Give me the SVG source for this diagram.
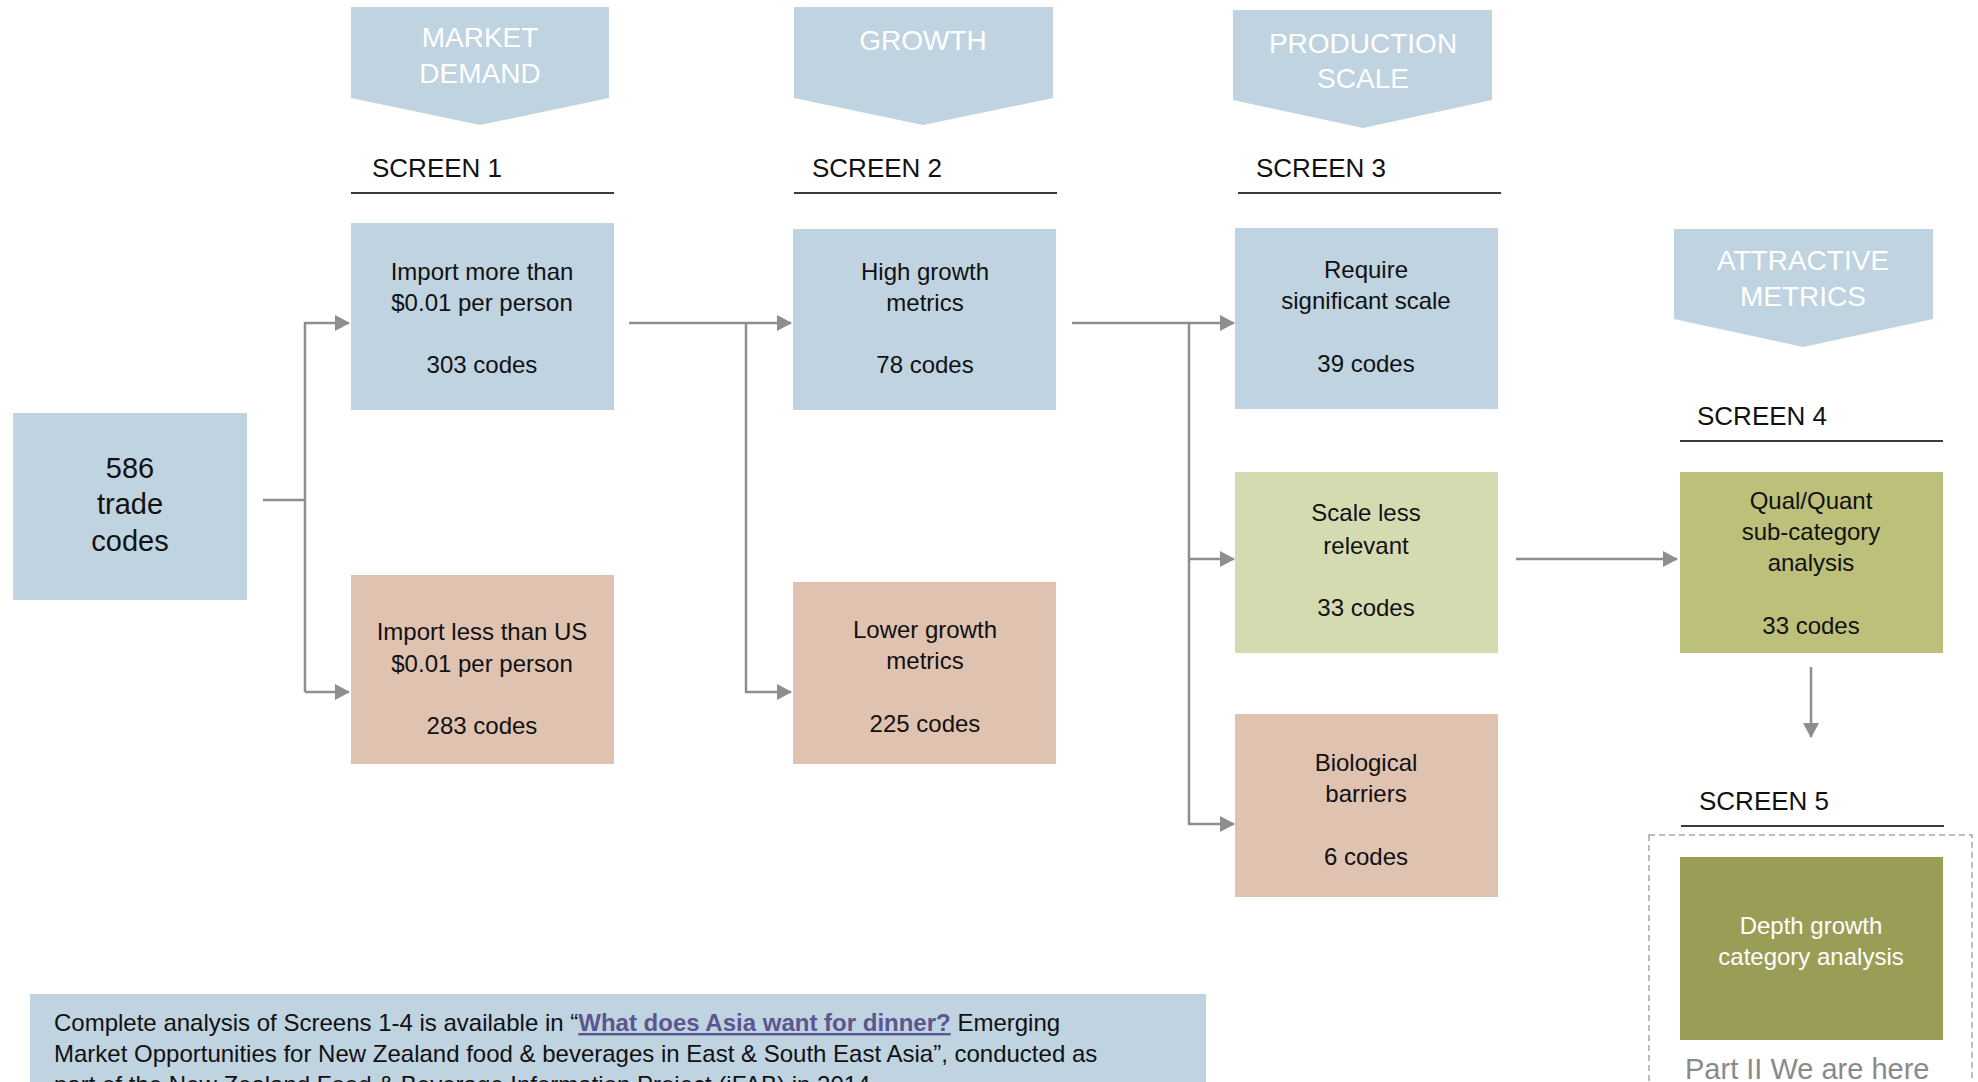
<svg xmlns="http://www.w3.org/2000/svg" width="1978" height="1082" viewBox="0 0 1978 1082">
<style>
text{font-family:"Liberation Sans",Arial,sans-serif}
.chev{fill:#bfd3e0}
.chevt{fill:#ffffff;font-size:28px;text-anchor:middle}
.scr{fill:#111;font-size:26px}
.ul{stroke:#3a3a3a;stroke-width:2}
.blue{fill:#bfd3e0}
.peach{fill:#e0c2b0}
.lgreen{fill:#d5dbb1}
.olive{fill:#bdc07b}
.dolive{fill:#9a9d55}
.bt{fill:#111;font-size:24px;text-anchor:middle}
.wt{fill:#ffffff;font-size:24px;text-anchor:middle}
.conn{fill:none;stroke:#8e8e8e;stroke-width:2.5}
.foot{fill:#111;font-size:24px}
</style>
<defs>
<marker id="ah" markerUnits="userSpaceOnUse" markerWidth="16" markerHeight="18" refX="14" refY="8" orient="auto">
<path d="M0,0 L15,8 L0,16 Z" fill="#8e8e8e"/>
</marker>
</defs>

<g id="headers">
<g id="hdr-market"><polygon class="chev" points="351,7 609,7 609,98 480,125 351,98"/><text class="chevt" x="480" y="47">MARKET</text><text class="chevt" x="480" y="83">DEMAND</text></g>
<g id="hdr-growth"><polygon class="chev" points="794,7 1053,7 1053,98 923,125 794,98"/><text class="chevt" x="923" y="50">GROWTH</text></g>
<g id="hdr-production"><polygon class="chev" points="1233,10 1492,10 1492,100 1363,128 1233,100"/><text class="chevt" x="1363" y="53">PRODUCTION</text><text class="chevt" x="1363" y="88">SCALE</text></g>
<g id="hdr-attractive"><polygon class="chev" points="1674,229 1933,229 1933,319 1803,347 1674,319"/><text class="chevt" x="1803" y="270">ATTRACTIVE</text><text class="chevt" x="1803" y="306">METRICS</text></g>
</g>

<g id="screens">
<g id="screen1"><text class="scr" x="372" y="177">SCREEN 1</text><line class="ul" x1="351" y1="193" x2="614" y2="193"/></g>
<g id="screen2"><text class="scr" x="812" y="177">SCREEN 2</text><line class="ul" x1="794" y1="193" x2="1057" y2="193"/></g>
<g id="screen3"><text class="scr" x="1256" y="177">SCREEN 3</text><line class="ul" x1="1238" y1="193" x2="1501" y2="193"/></g>
<g id="screen4"><text class="scr" x="1697" y="425">SCREEN 4</text><line class="ul" x1="1680" y1="441" x2="1943" y2="441"/></g>
<g id="screen5"><text class="scr" x="1699" y="810">SCREEN 5</text><line class="ul" x1="1681" y1="826" x2="1944" y2="826"/></g>
</g>

<g id="connectors">
<polyline class="conn" points="263,500 305,500"/>
<polyline class="conn" points="305,692 305,323 349,323" marker-end="url(#ah)"/>
<polyline class="conn" points="305,692 349,692" marker-end="url(#ah)"/>
<polyline class="conn" points="629,323 791,323" marker-end="url(#ah)"/>
<polyline class="conn" points="746,323 746,692 791,692" marker-end="url(#ah)"/>
<polyline class="conn" points="1072,323 1234,323" marker-end="url(#ah)"/>
<polyline class="conn" points="1189,323 1189,824 1234,824" marker-end="url(#ah)"/>
<polyline class="conn" points="1189,559 1234,559" marker-end="url(#ah)"/>
<polyline class="conn" points="1516,559 1677,559" marker-end="url(#ah)"/>
<polyline class="conn" points="1811,667 1811,737" marker-end="url(#ah)"/>
</g>

<g id="n586"><rect class="blue" x="13" y="413" width="234" height="187"/><text class="bt" style="font-size:29px" x="130" y="478">586</text><text class="bt" style="font-size:29px" x="130" y="514">trade</text><text class="bt" style="font-size:29px" x="130" y="551">codes</text></g>

<g id="n-import-more"><rect class="blue" x="351" y="223" width="263" height="187"/><text class="bt" x="482" y="280">Import more than</text><text class="bt" x="482" y="311">$0.01 per person</text><text class="bt" x="482" y="373">303 codes</text></g>

<g id="n-import-less"><rect class="peach" x="351" y="575" width="263" height="189"/><text class="bt" x="482" y="640">Import less than US</text><text class="bt" x="482" y="672">$0.01 per person</text><text class="bt" x="482" y="734">283 codes</text></g>

<g id="n-high-growth"><rect class="blue" x="793" y="229" width="263" height="181"/><text class="bt" x="925" y="280">High growth</text><text class="bt" x="925" y="311">metrics</text><text class="bt" x="925" y="373">78 codes</text></g>

<g id="n-lower-growth"><rect class="peach" x="793" y="582" width="263" height="182"/><text class="bt" x="925" y="638">Lower growth</text><text class="bt" x="925" y="669">metrics</text><text class="bt" x="925" y="732">225 codes</text></g>

<g id="n-require"><rect class="blue" x="1235" y="228" width="263" height="181"/><text class="bt" x="1366" y="278">Require</text><text class="bt" x="1366" y="309">significant scale</text><text class="bt" x="1366" y="372">39 codes</text></g>

<g id="n-scale-less"><rect class="lgreen" x="1235" y="472" width="263" height="181"/><text class="bt" x="1366" y="521">Scale less</text><text class="bt" x="1366" y="554">relevant</text><text class="bt" x="1366" y="616">33 codes</text></g>

<g id="n-biological"><rect class="peach" x="1235" y="714" width="263" height="183"/><text class="bt" x="1366" y="771">Biological</text><text class="bt" x="1366" y="802">barriers</text><text class="bt" x="1366" y="865">6 codes</text></g>

<g id="n-qual"><rect class="olive" x="1680" y="472" width="263" height="181"/><text class="bt" x="1811" y="509">Qual/Quant</text><text class="bt" x="1811" y="540">sub-category</text><text class="bt" x="1811" y="571">analysis</text><text class="bt" x="1811" y="634">33 codes</text></g>

<g id="n-depth">
<rect x="1649" y="835" width="323" height="270" fill="none" stroke="#a8a8a8" stroke-width="1.5" stroke-dasharray="6,4"/>
<rect class="dolive" x="1680" y="857" width="263" height="183"/><text class="wt" x="1811" y="934">Depth growth</text><text class="wt" x="1811" y="965">category analysis</text>
<text x="1685" y="1079" style="font-size:29px;fill:#8a8a8a">Part II We are here</text>
</g>

<g id="footer">
<rect class="blue" x="30" y="994" width="1176" height="110"/>
<text class="foot" x="54" y="1031">Complete analysis of Screens 1-4 is available in “<tspan style="fill:#5b5690;font-weight:bold;text-decoration:underline">What does Asia want for dinner?</tspan> Emerging</text>
<text class="foot" x="54" y="1062">Market Opportunities for New Zealand food &amp; beverages in East &amp; South East Asia”, conducted as</text>
<text class="foot" x="54" y="1093">part of the New Zealand Food &amp; Beverage Information Project (iFAB) in 2014.</text>
</g>
</svg>
